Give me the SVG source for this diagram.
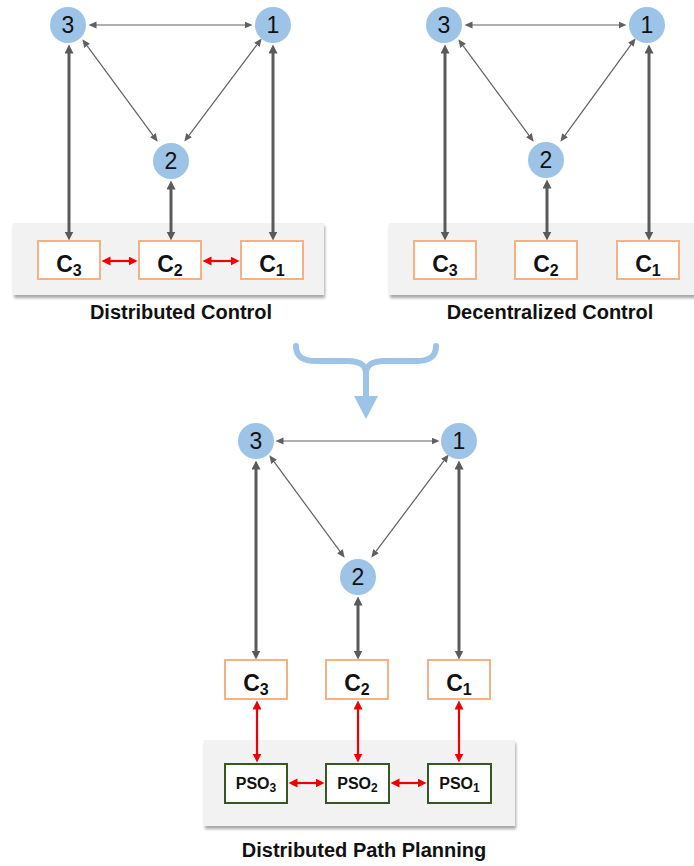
<svg xmlns="http://www.w3.org/2000/svg" width="694" height="866" viewBox="0 0 694 866">
<style>
.node circle{fill:#9DC3E6}
.num{font-family:"Liberation Sans",Arial,sans-serif;font-size:23px;fill:#111;text-anchor:middle}
.cbox{fill:#fff;stroke:#F4B183;stroke-width:2}
.pbox{fill:#fff;stroke:#385723;stroke-width:2}
.panel{fill:#F2F2F2;filter:url(#sh)}
.c{font-family:"Liberation Sans",Arial,sans-serif;font-weight:bold;font-size:23px;fill:#111;text-anchor:middle}
.csub{font-size:16px}
.p{font-family:"Liberation Sans",Arial,sans-serif;font-weight:bold;font-size:16px;fill:#111;text-anchor:middle}
.psub{font-size:12px}
.title{font-family:"Liberation Sans",Arial,sans-serif;font-weight:bold;font-size:20px;fill:#111;text-anchor:middle}
.thin{stroke:#606060;stroke-width:1.2;fill:none;marker-start:url(#ah);marker-end:url(#ah)}
.thick{stroke:#5A5A5A;stroke-width:3;fill:none;marker-start:url(#ahT);marker-end:url(#ahT)}
.red{stroke:#F00000;stroke-width:2.2;fill:none;marker-start:url(#ahR);marker-end:url(#ahR)}
</style>
<defs>
<filter id="sh" x="-5%" y="-10%" width="112%" height="130%">
<feDropShadow dx="1" dy="3" stdDeviation="1.8" flood-color="#000" flood-opacity="0.35"/>
</filter>
<marker id="ah" markerUnits="userSpaceOnUse" markerWidth="9" markerHeight="8" refX="0.5" refY="3.5" orient="auto-start-reverse"><path d="M0,0 L8,3.5 L0,7 z" fill="#606060"/></marker>
<marker id="ahT" markerUnits="userSpaceOnUse" markerWidth="10" markerHeight="10" refX="0.5" refY="4.5" orient="auto-start-reverse"><path d="M0,0 L9,4.5 L0,9 z" fill="#5A5A5A"/></marker>
<marker id="ahR" markerUnits="userSpaceOnUse" markerWidth="10" markerHeight="10" refX="0.5" refY="4.5" orient="auto-start-reverse"><path d="M0,0 L9,4.5 L0,9 z" fill="#F00000"/></marker>
</defs>

<!-- Panels -->
<g id="panels">
<rect class="panel" x="13" y="223" width="311" height="72"/>
<rect class="panel" x="389" y="223" width="311" height="72"/>
<rect class="panel" x="204" y="740" width="311" height="86"/>
</g>

<!-- Top-left: Distributed Control -->
<g id="dc-connectors">
<line class="thin" x1="96" y1="25" x2="245" y2="25"/>
<line class="thin" x1="86.8" y1="45.4" x2="153.2" y2="135.6"/>
<line class="thin" x1="257.2" y1="44.4" x2="188.8" y2="135.6"/>
<line class="thick" x1="69" y1="53" x2="69" y2="232"/>
<line class="thick" x1="171" y1="189" x2="171" y2="232"/>
<line class="thick" x1="273" y1="53" x2="273" y2="232"/>
<line class="red" x1="110" y1="261" x2="129" y2="261"/>
<line class="red" x1="211" y1="261" x2="231" y2="261"/>
</g>
<g id="dc-n3" class="node"><circle cx="68" cy="25" r="18"/><text class="num" x="68" y="33">3</text></g>
<g id="dc-n1" class="node"><circle cx="273" cy="25" r="18"/><text class="num" x="273" y="33">1</text></g>
<g id="dc-n2" class="node"><circle cx="171" cy="161" r="18"/><text class="num" x="171" y="169">2</text></g>
<g id="dc-c3"><rect class="cbox" x="38" y="241" width="62" height="38"/><text class="c" x="69" y="272">C<tspan class="csub" dy="4">3</tspan></text></g>
<g id="dc-c2"><rect class="cbox" x="139" y="241" width="62" height="38"/><text class="c" x="170" y="272">C<tspan class="csub" dy="4">2</tspan></text></g>
<g id="dc-c1"><rect class="cbox" x="241" y="241" width="62" height="38"/><text class="c" x="272" y="272">C<tspan class="csub" dy="4">1</tspan></text></g>
<text class="title" x="181" y="319">Distributed Control</text>

<!-- Top-right: Decentralized Control -->
<g id="dz-connectors" transform="translate(376,0)">
<line class="thin" x1="96" y1="25" x2="243" y2="25"/>
<line class="thin" x1="86.8" y1="45.4" x2="153.2" y2="135.6"/>
<line class="thin" x1="255.2" y1="44.4" x2="188.8" y2="135.6"/>
<line class="thick" x1="69" y1="53" x2="69" y2="232"/>
<line class="thick" x1="171" y1="188" x2="171" y2="232"/>
<line class="thick" x1="273" y1="53" x2="273" y2="232"/>
</g>
<g id="dz-n3" class="node"><circle cx="444" cy="25" r="18"/><text class="num" x="444" y="33">3</text></g>
<g id="dz-n1" class="node"><circle cx="647" cy="25" r="18"/><text class="num" x="647" y="33">1</text></g>
<g id="dz-n2" class="node"><circle cx="546" cy="160" r="18"/><text class="num" x="546" y="168">2</text></g>
<g id="dz-c3"><rect class="cbox" x="414" y="241" width="62" height="38"/><text class="c" x="445" y="272">C<tspan class="csub" dy="4">3</tspan></text></g>
<g id="dz-c2"><rect class="cbox" x="515" y="241" width="62" height="38"/><text class="c" x="546" y="272">C<tspan class="csub" dy="4">2</tspan></text></g>
<g id="dz-c1"><rect class="cbox" x="617" y="241" width="62" height="38"/><text class="c" x="648" y="272">C<tspan class="csub" dy="4">1</tspan></text></g>
<text class="title" x="550" y="319">Decentralized Control</text>

<!-- Brace arrow -->
<g id="brace">
<path d="M296,346 C296,357 303,361 317,361 L347,361 C360,361 366,365 366,374 C366,365 372,361 385,361 L415,361 C429,361 436,357 436,346" fill="none" stroke="#9DC3E6" stroke-width="6" stroke-linecap="round"/>
<line x1="366" y1="370" x2="366" y2="398" stroke="#9DC3E6" stroke-width="6"/>
<polygon points="354,396 378,396 366,419" fill="#9DC3E6"/>
</g>

<!-- Bottom: Distributed Path Planning -->
<g id="pp-connectors">
<line class="thin" x1="283" y1="441" x2="432" y2="441"/>
<line class="thin" x1="273.8" y1="461.4" x2="340.2" y2="551.6"/>
<line class="thin" x1="444.2" y1="460.4" x2="375.8" y2="551.6"/>
<line class="thick" x1="256" y1="469" x2="256" y2="651"/>
<line class="thick" x1="358" y1="605" x2="358" y2="651"/>
<line class="thick" x1="459" y1="469" x2="459" y2="651"/>
<line class="red" x1="257" y1="709" x2="257" y2="754"/>
<line class="red" x1="358" y1="709" x2="358" y2="754"/>
<line class="red" x1="459" y1="709" x2="459" y2="754"/>
<line class="red" x1="297" y1="783" x2="316" y2="783"/>
<line class="red" x1="399" y1="783" x2="418" y2="783"/>
</g>
<g id="pp-n3" class="node"><circle cx="256" cy="441" r="18"/><text class="num" x="256" y="449">3</text></g>
<g id="pp-n1" class="node"><circle cx="459" cy="441" r="18"/><text class="num" x="459" y="449">1</text></g>
<g id="pp-n2" class="node"><circle cx="358" cy="577" r="18"/><text class="num" x="358" y="585">2</text></g>
<g id="pp-c3"><rect class="cbox" x="225" y="660" width="62" height="39"/><text class="c" x="256" y="691">C<tspan class="csub" dy="4">3</tspan></text></g>
<g id="pp-c2"><rect class="cbox" x="326" y="660" width="62" height="39"/><text class="c" x="357" y="691">C<tspan class="csub" dy="4">2</tspan></text></g>
<g id="pp-c1"><rect class="cbox" x="428" y="660" width="62" height="39"/><text class="c" x="459" y="691">C<tspan class="csub" dy="4">1</tspan></text></g>
<g id="pp-pso3"><rect class="pbox" x="225" y="764" width="62" height="39"/><text class="p" x="256" y="789">PSO<tspan class="psub" dy="3">3</tspan></text></g>
<g id="pp-pso2"><rect class="pbox" x="326" y="764" width="63" height="39"/><text class="p" x="357.5" y="789">PSO<tspan class="psub" dy="3">2</tspan></text></g>
<g id="pp-pso1"><rect class="pbox" x="428" y="764" width="63" height="39"/><text class="p" x="459.5" y="789">PSO<tspan class="psub" dy="3">1</tspan></text></g>
<text class="title" x="364" y="857">Distributed Path Planning</text>
</svg>
